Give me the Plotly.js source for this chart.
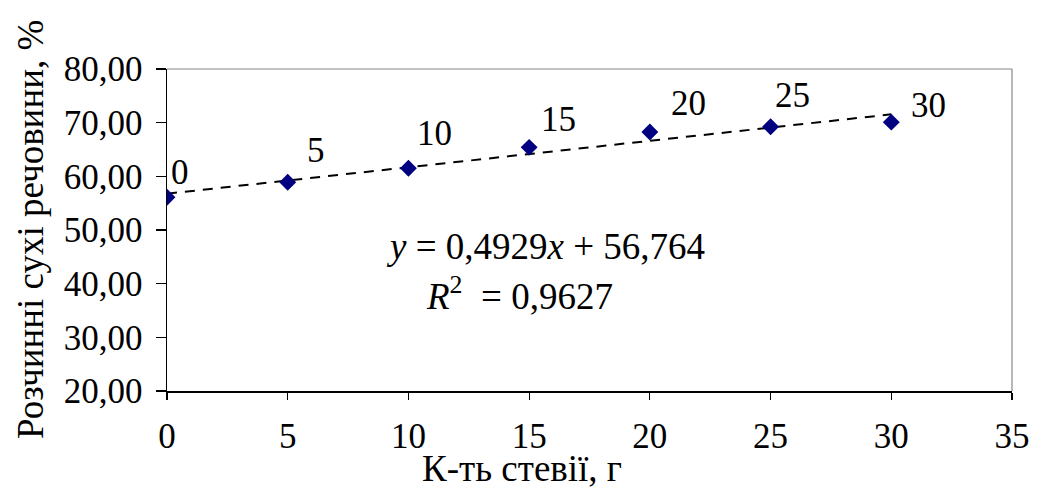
<!DOCTYPE html>
<html>
<head>
<meta charset="utf-8">
<script src="https://cdn.plot.ly/plotly-3.0.1.min.js"></script>
<style>html,body{margin:0;padding:0;background:#fff;}#chart{width:1037px;height:489px;}</style>
</head>
<body>
<div id="chart"></div>
<script>
// Data
var steviaGrams = [0, 5, 10, 15, 20, 25, 30];
var solubleSolids = [56.1, 58.9, 61.5, 65.4, 68.25, 69.25, 70.1];
var pointLabels = ['0', '5', '10', '15', '20', '25', '30'];
var trendSlope = 0.4929;
var trendIntercept = 56.764;
var trendRange = [0, 30];
var yTickVals = [20, 30, 40, 50, 60, 70, 80];
var yTickText = ['20,00', '30,00', '40,00', '50,00', '60,00', '70,00', '80,00'];
var xTickVals = [0, 5, 10, 15, 20, 25, 30, 35];
var equationText = '<i>y</i> = 0,4929<i>x</i> + 56,764';
var r2Text = '<i>R</i><sup>2</sup>  = 0,9627';
var xTitle = 'К-ть стевії, г';
var yTitle = 'Розчинні сухі речовини, %';

// label offsets in pixels (style only)
var labelShiftX = [13, 28, 26, 29, 39, 22, 37];
var labelShiftY = [-25, -32, -35, -28, -29, -31, -17];

var FONT = 'Liberation Serif';
var FS_TICK = 35, FS_LABEL = 35, FS_TEXT = 37;

var trendY = trendRange.map(function (x) { return trendSlope * x + trendIntercept; });

var traces = [
  {
    x: trendRange, y: trendY, mode: 'lines', type: 'scatter',
    line: { color: '#000000', width: 2, dash: '10px,8px' },
    hoverinfo: 'skip', showlegend: false
  },
  {
    x: steviaGrams, y: solubleSolids, mode: 'markers', type: 'scatter',
    marker: { symbol: 'diamond', size: 13, color: '#000080', line: { width: 0 } },
    showlegend: false
  }
];

var annotations = steviaGrams.map(function (x, i) {
  return {
    x: x, y: solubleSolids[i], xref: 'x', yref: 'y', text: pointLabels[i],
    showarrow: false, xshift: labelShiftX[i], yshift: -labelShiftY[i],
    font: { family: FONT, size: FS_LABEL, color: '#000000' }
  };
});
annotations.push({
  x: 15.66, y: 47.0, xref: 'x', yref: 'y', text: equationText, showarrow: false,
  font: { family: FONT, size: FS_TEXT, color: '#000000' }
});
annotations.push({
  x: 14.62, y: 38.2, xref: 'x', yref: 'y', text: r2Text, showarrow: false,
  font: { family: FONT, size: FS_TEXT, color: '#000000' }
});
// axis titles
annotations.push({
  x: 14.7, y: 0, xref: 'x', yref: 'paper', yanchor: 'middle', yshift: -77,
  text: xTitle, showarrow: false,
  font: { family: FONT, size: FS_TEXT, color: '#000000' }
});
annotations.push({
  x: 0, y: 0.5, xref: 'paper', yref: 'paper', xanchor: 'center', yanchor: 'middle',
  xshift: -137, textangle: -90, text: yTitle, showarrow: false,
  font: { family: FONT, size: FS_TEXT, color: '#000000' }
});

var layout = {
  width: 1037, height: 489,
  margin: { l: 167, r: 25, t: 69, b: 98, pad: 0 },
  paper_bgcolor: '#ffffff', plot_bgcolor: '#ffffff',
  showlegend: false,
  xaxis: {
    range: [0, 35], tickvals: xTickVals, ticktext: xTickVals.map(String),
    showgrid: false, zeroline: false,
    showline: true, linecolor: '#000', linewidth: 1.5,
    ticks: 'outside', ticklen: 7, tickcolor: '#000', tickwidth: 1.2,
    ticklabelstandoff: 6,
    tickfont: { family: FONT, size: FS_TICK, color: '#000000' },
    automargin: false
  },
  yaxis: {
    range: [20, 80], tickvals: yTickVals, ticktext: yTickText,
    showgrid: false, zeroline: false,
    showline: true, linecolor: '#000', linewidth: 1.5,
    ticks: 'outside', ticklen: 10, tickcolor: '#000', tickwidth: 1.2,
    ticklabelstandoff: 6,
    tickfont: { family: FONT, size: FS_TICK, color: '#000000' },
    automargin: false
  },
  shapes: [
    { type: 'line', xref: 'paper', yref: 'paper', x0: 0, x1: 1, y0: 1, y1: 1, line: { color: '#888', width: 1.2 } },
    { type: 'line', xref: 'paper', yref: 'paper', x0: 1, x1: 1, y0: 0, y1: 1, line: { color: '#888', width: 1.2 } }
  ],
  annotations: annotations
};

Plotly.newPlot('chart', traces, layout, { displayModeBar: false, staticPlot: true });
</script>
</body>
</html>
